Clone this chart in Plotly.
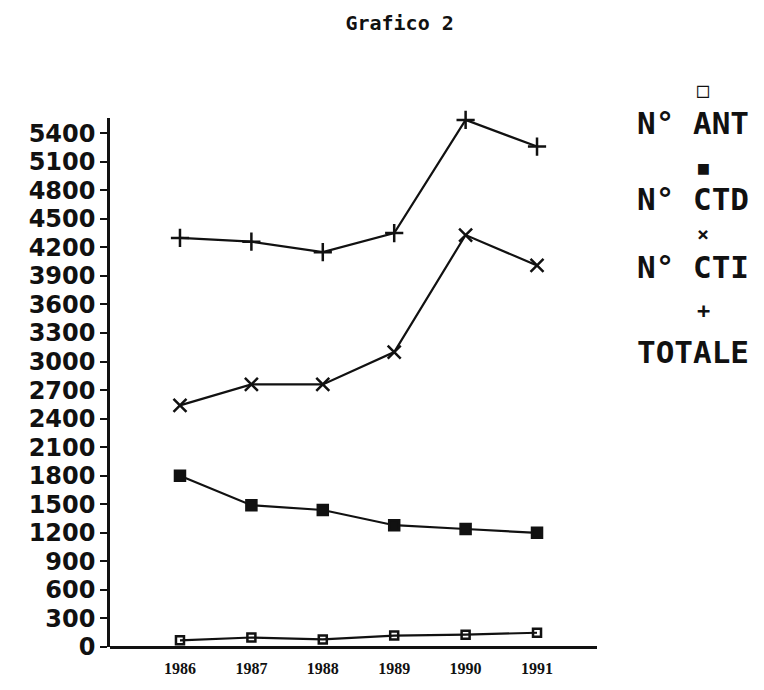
import plotly.graph_objects as go

years = [1986, 1987, 1988, 1989, 1990, 1991]
year_labels = ["1986", "1987", "1988", "1989", "1990", "1991"]

n_ant = [70, 100, 80, 120, 130, 150]
n_ctd = [1800, 1490, 1440, 1280, 1240, 1200]
n_cti = [2540, 2760, 2760, 3100, 4330, 4010]
totale = [4300, 4260, 4150, 4350, 5540, 5260]

y_ticks = list(range(0, 5401, 300))

MONO = "DejaVu Sans Mono"
INK = "#111111"

fig = go.Figure()

series = [
    (n_ant, "N° ANT", "square-open", 8),
    (n_ctd, "N° CTD", "square", 10),
    (n_cti, "N° CTI", "x-thin-open", 13),
    (totale, "TOTALE", "cross-thin-open", 13),
]
for vals, name, sym, size in series:
    fig.add_trace(
        go.Scatter(
            x=years,
            y=vals,
            name=name,
            mode="lines+markers",
            line={"color": INK, "width": 2.2},
            marker={"symbol": sym, "size": size, "color": INK,
                    "line": {"color": INK, "width": 2.5}},
            cliponaxis=False,
            showlegend=False,
        )
    )

# legend drawn by hand: symbol above label, stacked on the right
legend_items = [
    ("□", "N° ANT", 1.053, 0.990, 20),
    ("■", "N° CTD", 0.906, 0.847, 18),
    ("×", "N° CTI", 0.780, 0.719, 20),
    ("+", "TOTALE", 0.637, 0.557, 22),
]
for sym, label, ys, yl, ssize in legend_items:
    fig.add_annotation(
        text=f"<b>{sym}</b>", x=1.218, y=ys, xref="paper", yref="paper",
        xanchor="center", yanchor="middle",
        showarrow=False, font={"family": MONO, "size": ssize, "color": INK},
    )
    fig.add_annotation(
        text=f"<b>{label}</b>", x=1.078, y=yl, xref="paper", yref="paper",
        xanchor="left", yanchor="middle",
        showarrow=False, font={"family": MONO, "size": 31, "color": INK},
    )

fig.update_layout(
    width=756,
    height=682,
    paper_bgcolor="white",
    plot_bgcolor="white",
    title={
        "text": "<b>Grafico 2</b>",
        "x": 0.518,
        "y": 0.978,
        "xanchor": "center",
        "yanchor": "middle",
        "font": {"family": MONO, "size": 20, "color": INK},
    },
    margin={"l": 102, "r": 167, "t": 110, "b": 43},
    showlegend=False,
)
fig.update_xaxes(
    range=[1985.02, 1991.84],
    tickvals=years,
    ticktext=year_labels,
    showgrid=False,
    zeroline=False,
    showline=False,
    ticks="",
    ticklabelstandoff=10,
    tickfont={"family": "Liberation Serif", "size": 16, "color": INK, "weight": "bold"},
)
fig.update_yaxes(
    range=[0, 5560],
    tickvals=y_ticks,
    showgrid=False,
    zeroline=True,
    zerolinecolor=INK,
    zerolinewidth=2.5,
    showline=True,
    linecolor=INK,
    linewidth=2.5,
    ticks="outside",
    ticklen=7,
    tickwidth=2,
    tickcolor=INK,
    tickfont={"family": "DejaVu Sans", "size": 24, "color": INK, "weight": "bold"},
)

fig.write_html("out.html")
